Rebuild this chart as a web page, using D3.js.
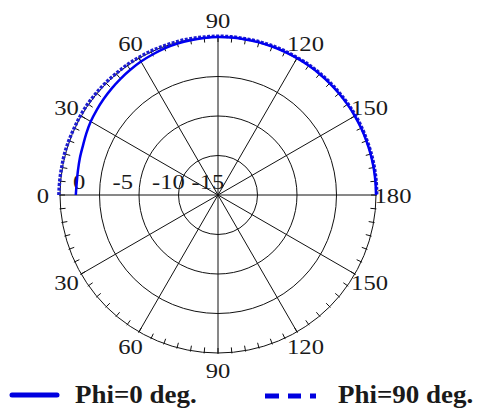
<!DOCTYPE html>
<html>
<head>
<meta charset="utf-8">
<script src="https://cdn.jsdelivr.net/npm/d3@7/dist/d3.min.js"></script>
<style>
  html, body { margin: 0; padding: 0; background: #fff; }
  svg { display: block; }
  text { font-family: "Liberation Serif", "DejaVu Serif", serif; fill: #1a1a1a; }
</style>
</head>
<body>
<svg id="chart" width="482" height="410"></svg>
<script>
// Elevation angle (deg) of each sample, upper half of the pattern
const theta = [0, 5, 10, 15, 20, 25, 30, 35, 40, 45, 50, 55, 60, 65, 70, 75, 80, 85, 90,
  95, 100, 105, 110, 115, 120, 125, 130, 135, 140, 145, 150, 155, 160, 165, 170, 175, 180];

// Normalised gain (dB), Phi = 0 deg cut
const gainPhi0 = [-2.0, -2.05, -2.0, -1.9, -1.8, -1.6, -1.4, -1.25, -1.1, -0.95, -0.8, -0.65, -0.5,
  -0.38, -0.25, -0.16, -0.1, -0.05, 0.0, 0.0, 0.0, 0.0, 0.0, 0.0, 0.0, 0.0, 0.0, 0.0, 0.0, 0.0,
  0.0, 0.0, 0.0, 0.0, 0.0, 0.0, 0.0];

// Normalised gain (dB), Phi = 90 deg cut
const gainPhi90 = [0.15, 0.12, 0.1, 0.12, 0.1, 0.08, 0.1, 0.12, 0.1, 0.1, 0.08, 0.1, 0.1,
  0.1, 0.08, 0.1, 0.1, 0.08, 0.1, 0.1, 0.08, 0.1, 0.1, 0.1, 0.08, 0.1, 0.1, 0.1, 0.08, 0.1,
  0.1, 0.1, 0.08, 0.1, 0.1, 0.1, 0.1];

// Radial grid (dB) and angular grid labels
const ringValues = [-15, -10, -5, 0];
const ringLabels = ["-15", "-10", "-5", "0"];
const upperAngleLabels = [0, 30, 60, 90, 120, 150, 180];
const lowerAngleLabels = [30, 60, 90, 120, 150];
const seriesNames = ["Phi=0 deg.", "Phi=90 deg."];

const svg = d3.select("#chart");
const cx = 218, cy = 195, R = 158;
const SX = 1.12;   // horizontal stretch of the serif labels
const FS = 22;

const r = d3.scaleLinear().domain([-20, 0]).range([0, R]);
// 0 deg on the left, 90 deg at the top, 180 deg on the right (radians from 12 o'clock)
const a = d3.scaleLinear().domain([0, 180]).range([-Math.PI / 2, Math.PI / 2]);

const g = svg.append("g").attr("transform", `translate(${cx},${cy})`);

// Concentric rings
g.selectAll("circle.ring")
  .data(ringValues)
  .join("circle")
  .attr("class", "ring")
  .attr("r", d => r(d))
  .attr("fill", "none")
  .attr("stroke", "#111")
  .attr("stroke-width", 1);

// Spokes every 30 deg
const spokes = d3.range(0, 360, 30);
g.selectAll("line.spoke")
  .data(spokes)
  .join("line")
  .attr("class", "spoke")
  .attr("x1", 0).attr("y1", 0)
  .attr("x2", d => R * Math.cos(d * Math.PI / 180))
  .attr("y2", d => R * Math.sin(d * Math.PI / 180))
  .attr("stroke", "#111")
  .attr("stroke-width", 1);

// Minor ticks every 5 deg on the outer ring
const ticks = d3.range(0, 360, 5);
g.selectAll("line.tick")
  .data(ticks)
  .join("line")
  .attr("class", "tick")
  .attr("x1", d => (R - 5) * Math.cos(d * Math.PI / 180))
  .attr("y1", d => (R - 5) * Math.sin(d * Math.PI / 180))
  .attr("x2", d => (R + 1) * Math.cos(d * Math.PI / 180))
  .attr("y2", d => (R + 1) * Math.sin(d * Math.PI / 180))
  .attr("stroke", "#111")
  .attr("stroke-width", 1);

// Places a stretched label at (x, y)
function label(sel, x, y) {
  return sel.attr("transform", (d, i) => `translate(${x(d, i)},${y(d, i)}) scale(${SX},1)`);
}

// Ring value labels along the left horizontal axis
label(g.selectAll("text.rlabel")
  .data(ringValues)
  .join("text")
  .attr("class", "rlabel")
  .attr("font-size", FS)
  .text((d, i) => ringLabels[i]), d => -r(d) + 13, () => -6);

// Angle labels
const LR = 175;
label(g.selectAll("text.up")
  .data(upperAngleLabels)
  .join("text")
  .attr("class", "up")
  .attr("text-anchor", "middle")
  .attr("dominant-baseline", "central")
  .attr("font-size", FS)
  .text(d => d),
  d => -LR * Math.cos(d * Math.PI / 180), d => -LR * Math.sin(d * Math.PI / 180));

label(g.selectAll("text.low")
  .data(lowerAngleLabels)
  .join("text")
  .attr("class", "low")
  .attr("text-anchor", "middle")
  .attr("dominant-baseline", "central")
  .attr("font-size", FS)
  .text(d => d),
  d => -LR * Math.cos(d * Math.PI / 180), d => LR * Math.sin(d * Math.PI / 180));

// Pattern curves
const line = d3.lineRadial()
  .angle(d => a(d[0]))
  .radius(d => r(d[1]))
  .curve(d3.curveCatmullRom);

g.append("path")
  .datum(theta.map((t, i) => [t, gainPhi90[i]]))
  .attr("d", line)
  .attr("fill", "none")
  .attr("stroke", "#1c1cd0")
  .attr("stroke-width", 3.4)
  .attr("stroke-dasharray", "3,1.5");

g.append("path")
  .datum(theta.map((t, i) => [t, gainPhi0[i]]))
  .attr("d", line)
  .attr("fill", "none")
  .attr("stroke", "#0000f0")
  .attr("stroke-width", 2.5);

// Legend
const leg = svg.append("g");
leg.append("line")
  .attr("x1", 12).attr("x2", 57).attr("y1", 395).attr("y2", 395)
  .attr("stroke", "#0000e0").attr("stroke-width", 5).attr("stroke-linecap", "round");
leg.append("text")
  .attr("transform", `translate(75,403) scale(1.08,1)`)
  .attr("font-size", 25).attr("font-weight", "bold")
  .text(seriesNames[0]);

leg.append("line")
  .attr("x1", 265).attr("x2", 320).attr("y1", 396).attr("y2", 396)
  .attr("stroke", "#0000e0").attr("stroke-width", 5)
  .attr("stroke-dasharray", "14,9,13,9,6");
leg.append("text")
  .attr("transform", `translate(338,403) scale(1.08,1)`)
  .attr("font-size", 25).attr("font-weight", "bold")
  .text(seriesNames[1]);
</script>
</body>
</html>
